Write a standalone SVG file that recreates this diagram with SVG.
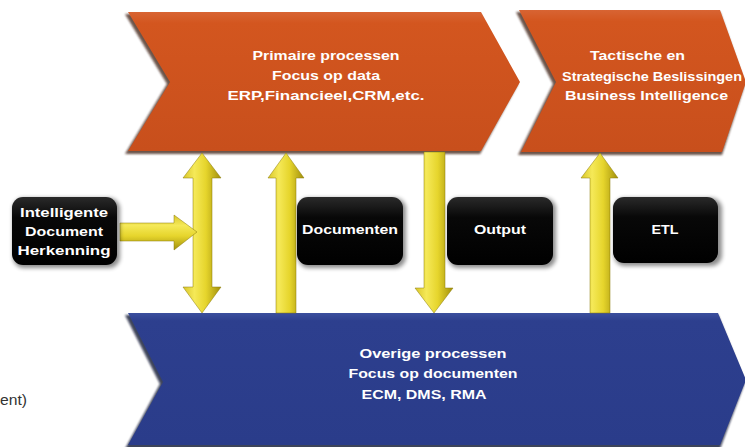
<svg xmlns="http://www.w3.org/2000/svg" width="745" height="447" viewBox="0 0 745 447">
<defs>
<linearGradient id="gOr" x1="0" y1="0" x2="0" y2="1">
<stop offset="0" stop-color="#d86433"/>
<stop offset="0.08" stop-color="#d3561f"/>
<stop offset="1" stop-color="#c84f1c"/>
</linearGradient>
<linearGradient id="gBl" x1="0" y1="0" x2="0" y2="1">
<stop offset="0" stop-color="#3b4f9e"/>
<stop offset="0.06" stop-color="#2d3f8e"/>
<stop offset="1" stop-color="#2a3c8a"/>
</linearGradient>
<linearGradient id="gYv" x1="0" y1="0" x2="1" y2="0">
<stop offset="0" stop-color="#d9c62a"/>
<stop offset="0.3" stop-color="#f5e958"/>
<stop offset="0.6" stop-color="#e6d52c"/>
<stop offset="1" stop-color="#a18f0c"/>
</linearGradient>
<linearGradient id="gYh" x1="0" y1="0" x2="0" y2="1">
<stop offset="0" stop-color="#d9c62a"/>
<stop offset="0.3" stop-color="#f5e958"/>
<stop offset="0.6" stop-color="#e6d52c"/>
<stop offset="1" stop-color="#a18f0c"/>
</linearGradient>
<linearGradient id="gBk" x1="0" y1="0" x2="0" y2="1">
<stop offset="0" stop-color="#2a2a2a"/>
<stop offset="0.3" stop-color="#080808"/>
<stop offset="1" stop-color="#000"/>
</linearGradient>
<filter id="blur" x="-10%" y="-10%" width="120%" height="120%">
<feGaussianBlur stdDeviation="2"/>
</filter>
<filter id="blur1" x="-10%" y="-10%" width="120%" height="120%">
<feGaussianBlur stdDeviation="1.2"/>
</filter>
</defs>
<style>
.t{font-family:"Liberation Sans",Arial,sans-serif;font-weight:bold;fill:#fff;font-size:13px}
.sh{fill:#3a1a0c;opacity:0.75}
.shb{fill:#0c1230;opacity:0.8}
.bk{fill:url(#gBk)}
.bks{fill:#000;opacity:0.45}
.y{stroke:#8a7a08;stroke-width:0.5}
</style>
<rect width="745" height="447" fill="#fff"/>

<g id="chevron-primaire">
<polygon class="sh" filter="url(#blur1)" points="125,14 480,14 518,84 480,154 125,154 167,84"/>
<polygon fill="url(#gOr)" points="128,12 481,12 520,82 481,151 128,151 170,82"/>
<text class="t" x="326" y="60" text-anchor="middle" textLength="147" lengthAdjust="spacingAndGlyphs">Primaire processen</text>
<text class="t" x="326" y="80" text-anchor="middle" textLength="108" lengthAdjust="spacingAndGlyphs">Focus op data</text>
<text class="t" x="326" y="100" text-anchor="middle" textLength="197" lengthAdjust="spacingAndGlyphs">ERP,Financieel,CRM,etc.</text>
</g>

<g id="chevron-tactisch">
<polygon class="sh" filter="url(#blur1)" points="516,12 720,12 745,84 722,155 518,155 553,84"/>
<polygon fill="url(#gOr)" points="519,10 720,10 746,82 722,152 521,152 556,82"/>
<text class="t" x="590" y="60" textLength="95" lengthAdjust="spacingAndGlyphs">Tactische en</text>
<text class="t" x="562" y="81" textLength="180" lengthAdjust="spacingAndGlyphs">Strategische Beslissingen</text>
<text class="t" x="565" y="100" textLength="163" lengthAdjust="spacingAndGlyphs">Business Intelligence</text>
</g>

<g id="chevron-overige">
<polygon class="shb" filter="url(#blur1)" points="125,315 718,315 745,382 720,449 125,449 160,384"/>
<polygon fill="url(#gBl)" points="128,313 718,313 746,380 720,445 128,445 163,382"/>
<text class="t" x="433" y="358" text-anchor="middle" textLength="147" lengthAdjust="spacingAndGlyphs">Overige processen</text>
<text class="t" x="433" y="378" text-anchor="middle" textLength="169" lengthAdjust="spacingAndGlyphs">Focus op documenten</text>
<text class="t" x="424" y="399" text-anchor="middle" textLength="125" lengthAdjust="spacingAndGlyphs">ECM, DMS, RMA</text>
</g>

<g id="connectors">
<polygon class="y" fill="url(#gYv)" points="202,153 221,178 212,178 212,287 221,287 202,313 183,287 193,287 193,178 183,178"/>
<polygon class="y" fill="url(#gYh)" points="120,223 174,223 174,215 197,232 174,250 174,241 120,241"/>
<polygon class="y" fill="url(#gYv)" points="286,153 304,178 296,178 296,313 276,313 276,178 268,178"/>
<polygon class="y" fill="url(#gYv)" points="424,152 445,152 445,288 453,288 434,313 415,288 424,288"/>
<polygon class="y" fill="url(#gYv)" points="600,153 618,178 610,178 610,313 590,313 590,178 581,178"/>
</g>

<g id="box-idh">
<rect class="bks" filter="url(#blur)" x="13" y="198" width="107" height="70" rx="11"/>
<rect class="bk" x="12" y="197" width="105" height="68" rx="11"/>
<text class="t" x="64" y="217" text-anchor="middle" textLength="88" lengthAdjust="spacingAndGlyphs">Intelligente</text>
<text class="t" x="64" y="236" text-anchor="middle" textLength="78" lengthAdjust="spacingAndGlyphs">Document</text>
<text class="t" x="64" y="255" text-anchor="middle" textLength="93" lengthAdjust="spacingAndGlyphs">Herkenning</text>
</g>

<g id="box-documenten">
<rect class="bks" filter="url(#blur)" x="298" y="198" width="108" height="70" rx="11"/>
<rect class="bk" x="297" y="197" width="106" height="68" rx="11"/>
<text class="t" x="350" y="234" text-anchor="middle" textLength="96" lengthAdjust="spacingAndGlyphs">Documenten</text>
</g>

<g id="box-output">
<rect class="bks" filter="url(#blur)" x="448" y="198" width="108" height="70" rx="11"/>
<rect class="bk" x="447" y="197" width="106" height="68" rx="11"/>
<text class="t" x="500" y="234" text-anchor="middle" textLength="52" lengthAdjust="spacingAndGlyphs">Output</text>
</g>

<g id="box-etl">
<rect class="bks" filter="url(#blur)" x="614" y="198" width="108" height="68" rx="11"/>
<rect class="bk" x="613" y="197" width="105" height="66" rx="11"/>
<text class="t" x="665" y="234" text-anchor="middle" textLength="27" lengthAdjust="spacingAndGlyphs">ETL</text>
</g>

<text x="0" y="405" font-family="'Liberation Sans',Arial,sans-serif" font-size="15" fill="#333" textLength="27" lengthAdjust="spacingAndGlyphs">ent)</text>
</svg>
